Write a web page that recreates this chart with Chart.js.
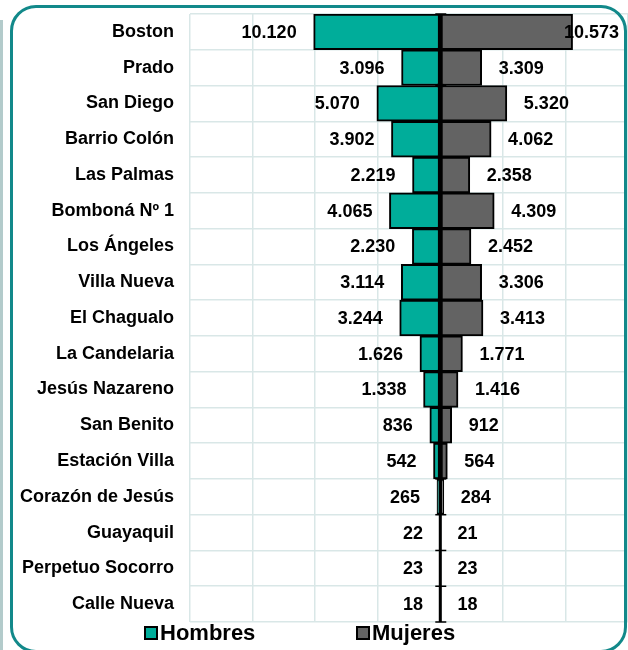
<!DOCTYPE html>
<html>
<head>
<meta charset="utf-8">
<script src="https://cdn.jsdelivr.net/npm/chart.js@4"></script>
<style>
  body { margin: 0; background: #fff; }
  #wrap { position: relative; width: 628px; height: 650px; overflow: hidden; }
  #frame { position: absolute; left: 10px; top: 5px; width: 617px; height: 648px; box-sizing: border-box;
           border: 3px solid #12898a; border-radius: 26px; pointer-events: none; }
  #edge { position: absolute; left: 0; top: 20px; width: 3px; height: 630px; background: #b3cbcb; }
</style>
</head>
<body>
<div id="wrap">
  <canvas id="my-chart" width="628" height="650"></canvas>
  <div id="edge"></div>
  <div id="frame"></div>
</div>
<script>
const barrios = ['Boston', 'Prado', 'San Diego', 'Barrio Colón', 'Las Palmas', 'Bomboná Nº 1', 'Los Ángeles',
  'Villa Nueva', 'El Chagualo', 'La Candelaria', 'Jesús Nazareno', 'San Benito', 'Estación Villa',
  'Corazón de Jesús', 'Guayaquil', 'Perpetuo Socorro', 'Calle Nueva'];
const hombres = [10120, 3096, 5070, 3902, 2219, 4065, 2230, 3114, 3244, 1626, 1338, 836, 542, 265, 22, 23, 18];
const mujeres = [10573, 3309, 5320, 4062, 2358, 4309, 2452, 3306, 3413, 1771, 1416, 912, 564, 284, 21, 23, 18];

const TEAL = '#00ad9a';
const GRAY = '#636363';
const GRID = '#d9e7e7';
const FONT = '"Liberation Sans", Arial, sans-serif';

function fmt(n) {
  return String(n).replace(/\B(?=(\d{3})+(?!\d))/g, '.');
}

// value labels, zero axis with tick marks, and legend
const extras = {
  id: 'extras',
  afterDatasetsDraw(chart) {
    const ctx = chart.ctx;
    const area = chart.chartArea;
    const x = chart.scales.x, y = chart.scales.y;
    ctx.save();

    // axis at zero
    const x0 = x.getPixelForValue(0);
    ctx.strokeStyle = '#000';
    ctx.lineWidth = 3;
    ctx.beginPath();
    ctx.moveTo(x0, area.top);
    ctx.lineTo(x0, area.bottom);
    ctx.stroke();
    const step = y.getPixelForValue(1) - y.getPixelForValue(0);
    ctx.lineWidth = 1.5;
    for (let i = 0; i <= barrios.length; i++) {
      const yb = y.getPixelForValue(0) + (i - 0.5) * step;
      ctx.beginPath();
      ctx.moveTo(x0 - 5, yb);
      ctx.lineTo(x0 + 6, yb);
      ctx.stroke();
    }

    // labels
    ctx.font = 'bold 18px ' + FONT;
    ctx.fillStyle = '#000';
    ctx.textBaseline = 'middle';
    chart.data.datasets.forEach((ds, d) => {
      const meta = chart.getDatasetMeta(d);
      meta.data.forEach((bar, i) => {
        const txt = fmt(Math.abs(ds.data[i]));
        const w = ctx.measureText(txt).width;
        if (d === 0) {
          ctx.textAlign = 'right';
          ctx.fillText(txt, bar.x - 17, bar.y + 1);
        } else {
          let left = bar.x + 17;
          if (left + w > area.right - 9) left = area.right - 9 - w;
          ctx.textAlign = 'left';
          ctx.fillText(txt, left, bar.y + 1);
        }
      });
    });

    // legend
    ctx.font = 'bold 22px ' + FONT;
    ctx.textAlign = 'left';
    const items = chart.data.datasets.map(ds => ({ text: ds.label, color: ds.backgroundColor }));
    const starts = [145, 357];
    const ly = 633;
    items.forEach((it, k) => {
      const lx = starts[k];
      ctx.fillStyle = it.color;
      ctx.fillRect(lx, ly - 6, 12, 12);
      ctx.strokeStyle = '#000';
      ctx.lineWidth = 2;
      ctx.strokeRect(lx, ly - 6, 12, 12);
      ctx.fillStyle = '#000';
      ctx.fillText(it.text, lx + 15, ly + 1);
    });
    ctx.restore();
  }
};

const ctx = document.getElementById('my-chart').getContext('2d');
const chart = new Chart(ctx, {
  type: 'bar',
  data: {
    labels: barrios,
    datasets: [
      {
        label: 'Hombres',
        backgroundColor: TEAL,
        borderColor: '#000',
        borderWidth: 2,
        borderSkipped: false,
        data: hombres.map(v => -v)
      },
      {
        label: 'Mujeres',
        backgroundColor: GRAY,
        borderColor: '#000',
        borderWidth: 2,
        borderSkipped: false,
        data: mujeres
      }
    ]
  },
  options: {
    indexAxis: 'y',
    responsive: false,
    animation: false,
    devicePixelRatio: 1,
    layout: { padding: { top: 14, bottom: 28, left: 0, right: 0 } },
    datasets: { bar: { barPercentage: 1, categoryPercentage: 1 } },
    plugins: { legend: { display: false }, tooltip: { enabled: false } },
    scales: {
      x: {
        stacked: true,
        min: -20000,
        max: 15000,
        ticks: { display: false, stepSize: 5000 },
        grid: { color: GRID, lineWidth: 1.5, drawTicks: false },
        border: { display: false },
        afterFit(s) { s.height = 0; s.paddingLeft = 0; s.paddingRight = 0; }
      },
      y: {
        stacked: true,
        ticks: { color: '#000', padding: 16, font: { family: FONT, size: 18, weight: 'bold' } },
        grid: { color: GRID, lineWidth: 1.5, drawTicks: false, offset: true },
        border: { display: false },
        afterFit(s) { s.width = 190; s.paddingTop = 0; s.paddingBottom = 0; }
      }
    }
  },
  plugins: [extras]
}); // closes chart
</script>
</body>
</html>
